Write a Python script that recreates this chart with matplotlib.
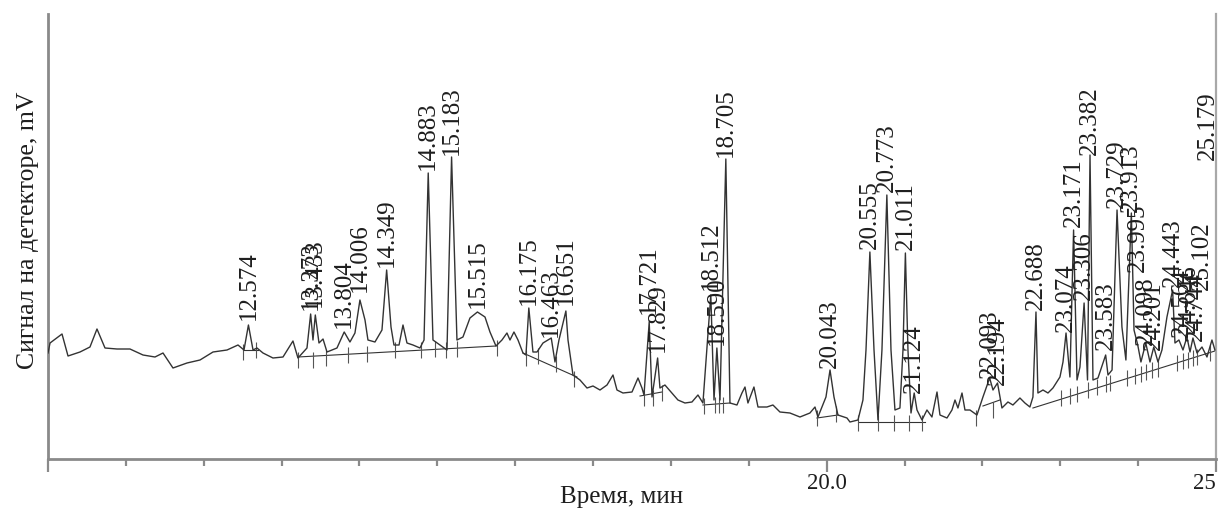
import matplotlib
matplotlib.use("Agg")
import matplotlib.pyplot as plt

plt.rcParams['font.family'] = ['Liberation Serif', 'DejaVu Serif']

# chromatogram trace: retention time (min) and detector signal (mV)
trace_t = [10.000, 10.026, 10.180, 10.257, 10.411, 10.539, 10.629, 10.732, 10.886, 11.053,
           11.220, 11.374, 11.477, 11.605, 11.785, 11.952, 12.119, 12.299, 12.440, 12.517,
           12.574, 12.633, 12.684, 12.761, 12.889, 13.018, 13.146, 13.210, 13.326, 13.373,
           13.403, 13.433, 13.480, 13.532, 13.583, 13.711, 13.804, 13.878, 13.942, 14.006,
           14.071, 14.109, 14.199, 14.289, 14.349, 14.405, 14.443, 14.508, 14.559, 14.610,
           14.687, 14.777, 14.829, 14.883, 14.944, 15.034, 15.124, 15.183, 15.252, 15.329,
           15.419, 15.515, 15.612, 15.676, 15.753, 15.830, 15.894, 15.933, 15.984, 16.036,
           16.100, 16.138, 16.175, 16.228, 16.280, 16.357, 16.463, 16.511, 16.562, 16.651,
           16.678, 16.742, 16.832, 16.922, 16.999, 17.089, 17.179, 17.256, 17.307, 17.384,
           17.500, 17.577, 17.628, 17.654, 17.721, 17.757, 17.829, 17.859, 17.923, 18.013,
           18.090, 18.180, 18.270, 18.347, 18.411, 18.512, 18.553, 18.590, 18.630, 18.705,
           18.758, 18.848, 18.912, 18.951, 18.989, 19.066, 19.118, 19.233, 19.310, 19.400,
           19.528, 19.657, 19.785, 19.850, 19.888, 19.991, 20.043, 20.094, 20.145, 20.261,
           20.299, 20.402, 20.466, 20.505, 20.555, 20.608, 20.659, 20.710, 20.773, 20.826,
           20.877, 20.941, 20.980, 21.011, 21.044, 21.083, 21.124, 21.160, 21.224, 21.288,
           21.352, 21.417, 21.455, 21.545, 21.609, 21.648, 21.686, 21.738, 21.776, 21.840,
           21.930, 22.007, 22.093, 22.136, 22.194, 22.251, 22.328, 22.392, 22.482, 22.546,
           22.610, 22.649, 22.688, 22.713, 22.778, 22.842, 22.906, 22.996, 23.035, 23.074,
           23.124, 23.171, 23.215, 23.253, 23.306, 23.350, 23.382, 23.420, 23.484, 23.583,
           23.613, 23.665, 23.729, 23.792, 23.843, 23.913, 23.947, 23.995, 24.036, 24.098,
           24.152, 24.201, 24.255, 24.306, 24.370, 24.443, 24.473, 24.524, 24.576, 24.627,
           24.666, 24.704, 24.756, 24.820, 24.884, 24.948, 24.986]
trace_s = [10.6, 11.6, 12.5, 10.3, 10.7, 11.2, 13.0, 11.1, 11.0, 11.0,
           10.4, 10.2, 10.6, 9.1, 9.6, 9.9, 10.7, 10.9, 11.4, 10.9,
           13.4, 10.9, 11.1, 10.6, 10.1, 10.2, 11.8, 10.1, 11.1, 14.5,
           11.9, 14.4, 11.6, 12.0, 10.7, 11.1, 12.7, 11.7, 12.6, 15.9,
           13.9, 11.9, 11.7, 12.9, 18.9, 13.2, 11.4, 11.4, 13.4, 11.6,
           11.4, 11.1, 11.9, 28.6, 11.9, 11.4, 10.9, 30.2, 11.9, 12.2,
           14.1, 14.7, 14.2, 12.7, 11.3, 11.9, 12.6, 11.9, 12.7, 11.9,
           10.6, 10.4, 15.1, 10.7, 10.7, 11.6, 12.1, 9.7, 11.9, 14.8,
           11.9, 8.4, 7.9, 7.1, 7.3, 6.9, 7.4, 8.4, 6.9, 6.6,
           6.7, 8.1, 7.1, 6.4, 13.7, 6.2, 10.1, 7.1, 7.4, 6.6,
           5.9, 5.6, 5.7, 6.4, 5.6, 16.4, 5.9, 11.1, 5.9, 30.0,
           5.6, 5.4, 6.6, 7.2, 5.6, 7.2, 5.2, 5.2, 5.4, 4.7,
           4.6, 4.2, 4.6, 5.2, 4.2, 6.2, 8.9, 6.2, 4.4, 4.1,
           3.7, 3.9, 5.9, 10.9, 20.7, 10.9, 3.9, 10.9, 26.4, 10.9,
           4.9, 5.1, 10.9, 20.6, 10.9, 4.6, 6.6, 4.9, 3.9, 4.9,
           4.2, 6.7, 4.4, 4.1, 4.9, 5.9, 5.1, 6.6, 4.9, 4.9,
           4.4, 6.2, 8.1, 6.9, 7.6, 5.1, 5.7, 5.4, 6.1, 5.6,
           5.2, 6.2, 14.7, 6.6, 6.9, 6.6, 7.1, 8.2, 9.7, 12.6,
           8.2, 22.9, 7.9, 9.2, 15.6, 7.9, 30.4, 7.9, 8.1, 10.4,
           8.4, 8.9, 24.9, 13.2, 9.9, 24.6, 12.9, 11.4, 9.7, 11.6,
           9.7, 11.2, 9.7, 10.9, 14.2, 16.9, 11.6, 11.9, 10.9, 12.2,
           10.7, 12.1, 10.6, 11.2, 10.2, 11.9, 10.9]

# labelled peaks: retention time text and signal level at the label foot
peak_labels = ["12.574", "13.373", "13.433", "13.804", "14.006", "14.349", "14.883", "15.183",
               "15.515", "16.175", "16.463", "16.651", "17.721", "17.829", "18.512", "18.590",
               "18.705", "20.043", "20.555", "20.773", "21.011", "21.124", "22.093", "22.194",
               "22.688", "23.074", "23.171", "23.306", "23.382", "23.583", "23.729", "23.913",
               "23.995", "24.098", "24.201", "24.443", "24.564", "24.646", "24.744", "25.102",
               "25.179"]
label_s = [13.9, 14.9, 15.2, 13.1, 16.7, 19.2, 28.9, 30.4,
           15.1, 15.4, 12.2, 15.4, 14.5, 10.7, 16.9, 11.4,
           30.2, 9.1, 21.0, 26.7, 20.9, 6.6, 8.1, 7.4,
           14.9, 12.7, 23.2, 15.9, 30.4, 10.9, 25.1, 24.7,
           18.7, 11.4, 10.9, 17.2, 12.2, 12.6, 11.8, 16.9,
           29.9]

# integration baselines (start/end time and signal)
base_t0 = [12.504, 13.210, 16.100, 17.603, 18.411, 19.875, 20.402, 22.007, 22.649]
base_s0 = [10.9, 10.2, 10.6, 6.3, 5.4, 4.1, 3.7, 5.3, 5.1]
base_t1 = [12.697, 15.753, 16.793, 17.885, 18.758, 20.145, 21.262, 22.225, 24.986]
base_s1 = [10.9, 11.3, 8.2, 6.7, 5.6, 4.4, 3.7, 5.9, 10.8]

# peak start/end markers
mark_t = [12.504, 12.671, 13.210, 13.403, 13.570, 13.852, 14.096, 14.456, 14.790, 14.970,
          15.111, 15.252, 15.766, 16.138, 16.292, 16.524, 16.755, 17.654, 17.770, 17.885,
          18.424, 18.566, 18.617, 18.669, 19.875, 20.119, 20.402, 20.659, 20.865, 21.058,
          21.225, 21.918, 22.136, 23.009, 23.124, 23.215, 23.356, 23.471, 23.587, 23.638,
          23.857, 23.960, 24.036, 24.101, 24.178, 24.255, 24.499, 24.576, 24.640, 24.704,
          24.756, 24.923]
mark_s = [10.7, 10.9, 9.9, 9.9, 10.1, 10.4, 10.5, 10.9, 10.9, 11.0,
          10.9, 11.0, 11.1, 10.1, 10.3, 9.5, 8.0, 6.1, 6.1, 6.6,
          5.3, 5.4, 5.4, 5.4, 4.1, 4.5, 3.6, 3.6, 3.6, 3.6,
          3.6, 4.1, 4.9, 6.1, 6.3, 6.5, 6.9, 7.2, 7.5, 7.6,
          8.1, 8.3, 8.5, 8.7, 8.9, 9.0, 9.6, 9.8, 9.9, 10.1,
          10.2, 10.6]

major_ticks = [10, 20, 25]
major_labels = ["", "20.0", "25"]
minor_ticks = [11, 12, 13, 14, 15, 16, 17, 18, 19, 21, 22, 23, 24]

fig = plt.figure(figsize=(12.21, 5.13), dpi=100)
ax = fig.add_axes([48 / 1221, 54 / 513, 1168 / 1221, 445 / 513])

ink = '#333333'
ax.plot(trace_t, trace_s, color=ink, lw=1.0, zorder=3)
for a, b, c, d in zip(base_t0, base_s0, base_t1, base_s1):
    ax.plot([a, c], [b, d], color=ink, lw=0.8, zorder=2)
ax.plot(mark_t, mark_s, ls='none', marker='|', ms=11, mew=0.8, color='#555555', zorder=2)

xmax = 25.0
for lab, s in zip(peak_labels, label_s):
    rt = float(lab)
    # labels past the end of the axis are drawn squeezed against the right edge
    x = rt if rt < xmax else rt - 0.28
    ax.text(x, s, lab, rotation=90, ha='center', va='bottom', fontsize=18,
            color='#1e1e1e', clip_on=False, zorder=4)

ax.set_xlim(10, xmax)
ax.set_ylim(0, 44.5)
ax.spines['top'].set_visible(False)
for side in ['left', 'bottom']:
    ax.spines[side].set_color('#8a8a8a')
    ax.spines[side].set_linewidth(2.0)
ax.spines['right'].set_color('#a8a8a8')
ax.spines['right'].set_linewidth(1.6)
ax.set_yticks([])
ax.set_xticks(major_ticks)
ax.set_xticklabels(major_labels, fontsize=16.5, color='#1e1e1e')
ax.set_xticks(minor_ticks, minor=True)
ax.tick_params(axis='x', which='major', length=9, width=1.6, color='#8a8a8a', pad=1)
ax.tick_params(axis='x', which='minor', length=5, width=1.6, color='#8a8a8a')
tl = ax.get_xticklabels()
tl[2].set_horizontalalignment('right')

ax.set_xlabel("Время, мин", fontsize=18, color='#1e1e1e')
ax.xaxis.set_label_coords(0.491, -0.060)
ax.set_ylabel("Сигнал на детекторе, mV", fontsize=18.5, color='#1e1e1e')
ax.yaxis.set_label_coords(-0.008, 0.515)

fig.savefig("out.png", dpi=100)
